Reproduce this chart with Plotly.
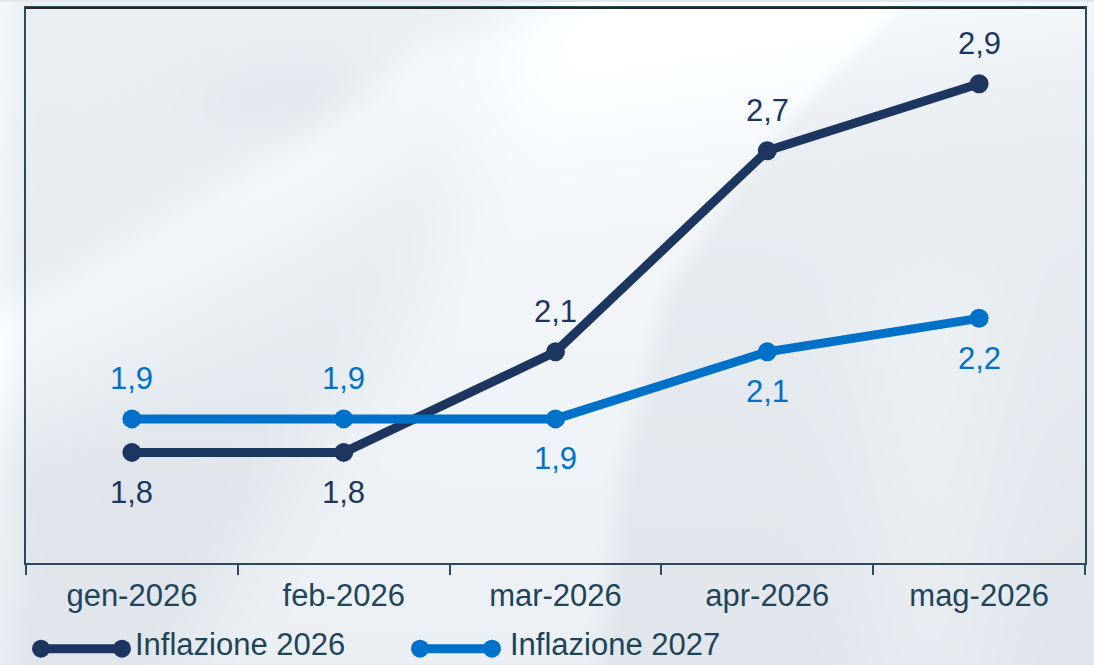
import base64
import struct
import zlib

import numpy as np
import plotly.graph_objects as go

categories = ["gen-2026", "feb-2026", "mar-2026", "apr-2026", "mag-2026"]
infl_2026 = [1.8, 1.8, 2.1, 2.7, 2.9]
infl_2027 = [1.9, 1.9, 1.9, 2.1, 2.2]
names = ["Inflazione 2026", "Inflazione 2027"]
label_pos_2026 = ["below", "below", "above", "above", "above"]
label_pos_2027 = ["above", "above", "below", "below", "below"]

NAVY = "#1d365f"
BLUE = "#0070c8"
TEXT = "#1f4458"
AXIS = "#2c4a5a"
FONT = "Liberation Sans, Arial, sans-serif"

W, H = 1094, 665
L, R, T, B = 26, 9, 6, 102
pw, ph = W - L - R, H - T - B


# ---------- soft procedural background (decorative) ----------
def smoothstep(e0, e1, v):
    t = np.clip((v - e0) / (e1 - e0), 0, 1)
    return t * t * (3 - 2 * t)


def make_background():
    s = 2
    w, h = W // s, H // s + 1
    xx, yy = np.meshgrid(np.arange(w) * s, np.arange(h) * s)
    base = np.array([225.0, 230.0, 236.0])
    b = np.zeros_like(xx, dtype=float)
    b += (1 - yy / H) * 10
    # upper-left ridge
    cA = np.interp(xx, [0, 150, 300, 420, 560, 1094], [340, 255, 165, 75, 30, -60])
    d = yy - cA
    b += 11 * np.where(d > 0, np.exp(-(d / 110) ** 2), np.exp(-(d / 40) ** 2))
    # grey valley
    b -= 6 * np.exp(-(((xx - 290) / 90) ** 2 + ((yy - 95) / 40) ** 2))
    # central white band
    xl = np.interp(yy, [0, 200, 350, 510, 665], [560, 470, 390, 290, 200])
    xr = np.interp(yy, [0, 150, 290, 480, 665], [900, 760, 667, 620, 600])
    band = smoothstep(xl - 90, xl + 70, xx) * (1 - smoothstep(xr - 18, xr + 18, xx))
    b += 11 * band
    # right soft fold
    b += 6 * np.exp(-(((xx - 930) / 80) ** 2)) * smoothstep(200, 340, yy)
    # lower-left darker zone
    b -= 3 * np.exp(-(((xx - 120) / 160) ** 2 + ((yy - 480) / 70) ** 2))
    # left edge light strip
    b += 8 * np.exp(-((xx / 18) ** 2))
    img = np.clip(base[None, None, :] + b[:, :, None] * np.array([1.0, 0.95, 0.8]), 0, 255)
    img = img.astype(np.uint8)
    raw = b"".join(b"\x00" + img[r].tobytes() for r in range(h))

    def chunk(tag, data):
        c = struct.pack(">I", len(data)) + tag + data
        return c + struct.pack(">I", zlib.crc32(tag + data) & 0xFFFFFFFF)

    png = b"\x89PNG\r\n\x1a\n" + chunk(b"IHDR", struct.pack(">IIBBBBB", w, h, 8, 2, 0, 0, 0))
    png += chunk(b"IDAT", zlib.compress(raw, 9)) + chunk(b"IEND", b"")
    return "data:image/png;base64," + base64.b64encode(png).decode()


fig = go.Figure()
for name, vals, col in [(names[0], infl_2026, NAVY), (names[1], infl_2027, BLUE)]:
    fig.add_trace(go.Scatter(
        x=categories, y=vals, name=name, mode="lines+markers",
        line=dict(color=col, width=9),
        marker=dict(color=col, size=19),
        showlegend=False, hoverinfo="skip",
    ))


def fmt(v):
    return f"{v:.1f}".replace(".", ",")


for vals, pos, col in [(infl_2026, label_pos_2026, NAVY), (infl_2027, label_pos_2027, BLUE)]:
    for c, v, p in zip(categories, vals, pos):
        fig.add_annotation(
            x=c, y=v, text=fmt(v), showarrow=False,
            yshift=40 if p == "above" else -40,
            font=dict(family=FONT, size=31, color=col),
        )


def px_to_paper_x(px):
    return (px - L) / pw


def py_to_paper_y(py):
    return (H - B - py) / ph


# custom legend: line with markers at both ends
legend_items = [(names[0], NAVY, 41, 122, 133), (names[1], BLUE, 420, 492, 508)]
ly = py_to_paper_y(649)
for name, col, x0, x1, tx in legend_items:
    fig.add_shape(type="line", xref="paper", yref="paper",
                  x0=px_to_paper_x(x0), x1=px_to_paper_x(x1), y0=ly, y1=ly,
                  line=dict(color=col, width=9))
    for cx in (x0, x1):
        fig.add_shape(type="circle", xref="paper", yref="paper",
                      xsizemode="pixel", ysizemode="pixel",
                      xanchor=px_to_paper_x(cx), yanchor=ly,
                      x0=-9, x1=9, y0=-9, y1=9,
                      fillcolor=col, line=dict(color=col, width=0))
    fig.add_annotation(xref="paper", yref="paper", x=px_to_paper_x(tx),
                       y=py_to_paper_y(664), xanchor="left", yanchor="bottom",
                       text=name, showarrow=False,
                       font=dict(family=FONT, size=31, color=TEXT))

# darker top border
fig.add_shape(type="line", xref="paper", yref="paper", x0=0, x1=1, y0=1, y1=1,
              line=dict(color="#23272c", width=2))

fig.add_layout_image(dict(
    source=make_background(), xref="paper", yref="paper",
    x=-L / pw, y=1 + T / ph, sizex=W / pw, sizey=H / ph,
    xanchor="left", yanchor="top", sizing="stretch", layer="below",
))

fig.update_layout(
    width=W, height=H,
    margin=dict(l=L, r=R, t=T, b=B),
    paper_bgcolor="#e3e8ee",
    plot_bgcolor="rgba(0,0,0,0)",
    font=dict(family=FONT, color=TEXT),
    xaxis=dict(
        type="category", showgrid=False, zeroline=False,
        showline=True, linecolor=AXIS, linewidth=2, mirror=True,
        ticks="outside", tickson="boundaries", ticklen=10, tickwidth=2, tickcolor=AXIS,
        tickfont=dict(family=FONT, size=31, color=TEXT),
        ticklabelstandoff=4,
        range=[-0.5, 4.5],
    ),
    yaxis=dict(
        range=[1.47, 3.126], showgrid=False, zeroline=False,
        showticklabels=False, showline=True, linecolor=AXIS, linewidth=2, mirror=True,
    ),
)

fig.write_html("out.html", config={"displayModeBar": False},
               post_script="document.body.style.margin='0';")
